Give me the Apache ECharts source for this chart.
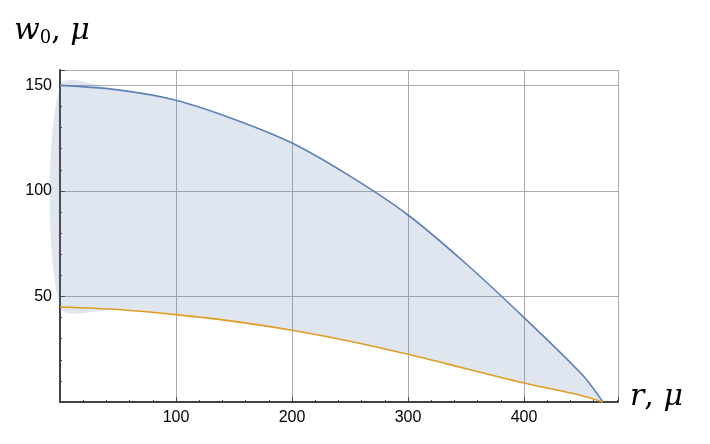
<!DOCTYPE html>
<html><head><meta charset="utf-8">
<script src="https://cdn.jsdelivr.net/npm/echarts@6/dist/echarts.min.js"></script>
<style>html,body{margin:0;background:#fff}#c{width:710px;height:444px}</style>
</head><body><div id="c"></div>
<script>
const rValues = [0, 50, 100, 150, 200, 250, 300, 350, 400, 450, 468];
const upper = [150, 147.9, 143, 134, 122.7, 107, 88.6, 65.5, 40, 13, 0];
const lower = [45, 43.8, 41.4, 38.2, 34, 28.8, 22.6, 15.8, 9, 3, 0];
const xTicks = [100, 200, 300, 400];
const yTicks = [50, 100, 150];

const pts = a => rValues.map((r, i) => [r, a[i]]);
const chart = echarts.init(document.getElementById('c'));
const axisLine = {show: true, lineStyle: {color: '#444', width: 2}};
const tick = {show: true, inside: true, length: 5, lineStyle: {color: '#444'}};
const minor = {show: true, splitNumber: 5, length: 2, lineStyle: {color: '#444'}};
chart.setOption({
  animation: false,
  grid: {left: 60, right: 92, top: 70, bottom: 42},
  xAxis: {type: 'value', min: 0, max: 481, interval: 100,
    axisLine, axisTick: tick, minorTick: minor,
    splitLine: {lineStyle: {color: '#aaa'}},
    axisLabel: {color: '#000', fontSize: 16, fontFamily: 'Liberation Sans', showMaxLabel: false,
      formatter: v => xTicks.includes(v) ? String(v) : ''}},
  yAxis: {type: 'value', min: 0, max: 157.3, interval: 50,
    axisLine, axisTick: tick, minorTick: minor,
    splitLine: {lineStyle: {color: '#aaa'}},
    axisLabel: {color: '#000', fontSize: 16, fontFamily: 'Liberation Sans', showMaxLabel: false,
      formatter: v => yTicks.includes(v) ? String(v) : ''}},
  graphic: [
    {type: 'text', left: 14, top: 16, style: {text: '{i|w}{s|0}{n|, }{i|μ}',
      rich: {i: {fontFamily: 'DejaVu Serif', fontStyle: 'italic', fontSize: 30, fill: '#000'},
             s: {fontFamily: 'DejaVu Serif', fontSize: 18, fill: '#000', verticalAlign: 'bottom', padding: [14,0,0,0]},
             n: {fontFamily: 'DejaVu Serif', fontSize: 30, fill: '#000'}}}},
    {type: 'text', left: 630, top: 382, style: {text: '{i|r}{n|, }{i|μ}',
      rich: {i: {fontFamily: 'DejaVu Serif', fontStyle: 'italic', fontSize: 30, fill: '#000'},
             n: {fontFamily: 'DejaVu Serif', fontSize: 30, fill: '#000'}}}}
  ],
  series: [
    {type: 'custom', silent: true, data: [0], z: 1,
      renderItem: (params, api) => {
        const top = rValues.map((r, i) => api.coord([r, upper[i]]));
        const bot = rValues.map((r, i) => api.coord([r, lower[i]])).reverse();
        return {type: 'polygon', shape: {points: top.concat(bot), smooth: 0.3},
          style: {fill: 'rgba(94,129,181,0.2)'}};
      }},
    {type: 'line', data: pts(upper), symbol: 'none', smooth: 0.3, lineStyle: {color: '#5e81b5', width: 1.6}, z: 3},
    {type: 'line', data: pts(lower), symbol: 'none', smooth: 0.3, lineStyle: {color: '#e19c24', width: 1.6}, z: 3}
  ]
});
</script></body></html>
